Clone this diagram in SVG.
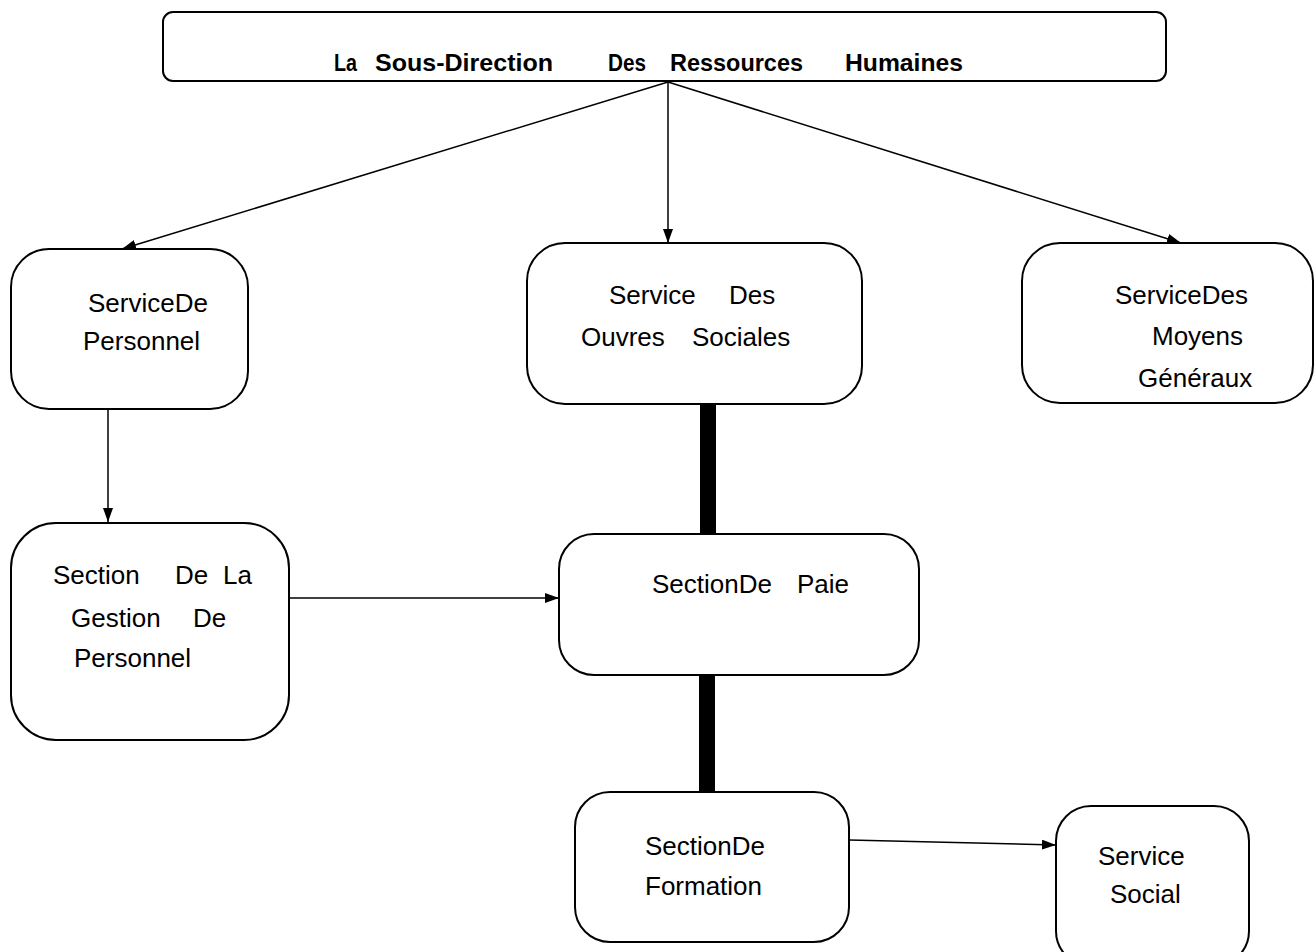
<svg xmlns="http://www.w3.org/2000/svg" width="1314" height="952" viewBox="0 0 1314 952">
<style>
.box{fill:#fff;stroke:#000;stroke-width:2}
.t{font-family:"Liberation Sans",Arial,sans-serif;font-size:26px;fill:#000}
.tb{font-family:"Liberation Sans",Arial,sans-serif;font-size:24px;font-weight:bold;fill:#000}
.ln{stroke:#000;stroke-width:1.5;fill:none}
.thick{fill:#000}
</style>
<defs>
<marker id="arrL" viewBox="0 0 14 10" refX="14" refY="5" markerWidth="14" markerHeight="10" markerUnits="userSpaceOnUse" orient="auto">
<path d="M0,0 L14,5 L0,10 Z" fill="#000"/>
</marker>
</defs>
<g id="connectors">
<line class="ln" x1="668" y1="82" x2="122" y2="249" marker-end="url(#arrL)"/>
<line class="ln" x1="668" y1="82" x2="668" y2="243" marker-end="url(#arrL)"/>
<line class="ln" x1="668" y1="82" x2="1181" y2="243" marker-end="url(#arrL)"/>
<line class="ln" x1="108" y1="410" x2="108" y2="522" marker-end="url(#arrL)"/>
<line class="ln" x1="289" y1="598" x2="559" y2="598" marker-end="url(#arrL)"/>
<line class="ln" x1="849" y1="840" x2="1056" y2="845" marker-end="url(#arrL)"/>
<rect class="thick" x="700" y="404" width="16" height="130"/>
<rect class="thick" x="699" y="675" width="16" height="117"/>
</g>
<g id="n-direction">
<rect class="box" x="163" y="12" width="1003" height="69" rx="10"/>
<text class="tb" y="71"><tspan x="334" textLength="23" lengthAdjust="spacingAndGlyphs">La</tspan><tspan x="375" textLength="178" lengthAdjust="spacingAndGlyphs">Sous-Direction</tspan><tspan x="608" textLength="38" lengthAdjust="spacingAndGlyphs">Des</tspan><tspan x="670" textLength="133" lengthAdjust="spacingAndGlyphs">Ressources</tspan><tspan x="845" textLength="118" lengthAdjust="spacingAndGlyphs">Humaines</tspan></text>
</g>
<g id="n-personnel">
<rect class="box" x="11" y="249" width="237" height="160" rx="38"/>
<text class="t" x="88" y="312">ServiceDe</text>
<text class="t" x="83" y="350">Personnel</text>
</g>
<g id="n-ouvres">
<rect class="box" x="527" y="243" width="335" height="161" rx="38"/>
<text class="t" y="304"><tspan x="609">Service</tspan><tspan x="729">Des</tspan></text>
<text class="t" y="346"><tspan x="581">Ouvres</tspan><tspan x="692">Sociales</tspan></text>
</g>
<g id="n-moyens">
<rect class="box" x="1022" y="243" width="291" height="160" rx="38"/>
<text class="t" x="1115" y="304">ServiceDes</text>
<text class="t" x="1152" y="345">Moyens</text>
<text class="t" x="1138" y="387">Généraux</text>
</g>
<g id="n-gestion">
<rect class="box" x="11" y="523" width="278" height="217" rx="45"/>
<text class="t" y="584"><tspan x="53">Section</tspan><tspan x="175">De</tspan><tspan x="223">La</tspan></text>
<text class="t" y="627"><tspan x="71">Gestion</tspan><tspan x="193">De</tspan></text>
<text class="t" x="74" y="667">Personnel</text>
</g>
<g id="n-paie">
<rect class="box" x="559" y="534" width="360" height="141" rx="35"/>
<text class="t" y="593"><tspan x="652">SectionDe</tspan><tspan x="797">Paie</tspan></text>
</g>
<g id="n-formation">
<rect class="box" x="575" y="792" width="274" height="150" rx="35"/>
<text class="t" x="645" y="855">SectionDe</text>
<text class="t" x="645" y="895">Formation</text>
</g>
<g id="n-social">
<rect class="box" x="1056" y="806" width="193" height="160" rx="35"/>
<text class="t" x="1098" y="865">Service</text>
<text class="t" x="1110" y="903">Social</text>
</g>
</svg>
